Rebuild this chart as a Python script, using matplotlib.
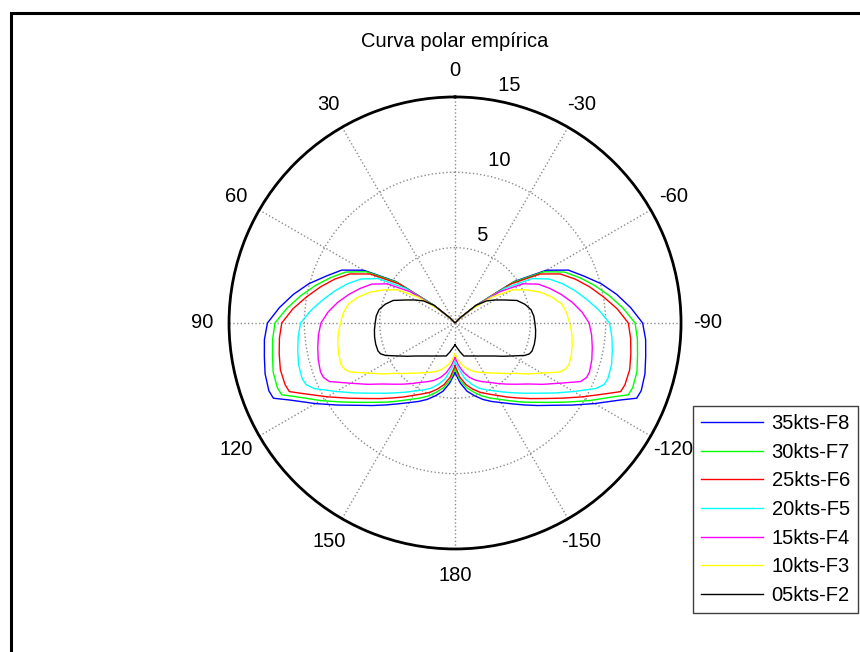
import matplotlib
matplotlib.use("Agg")
import matplotlib.pyplot as plt
from matplotlib.patches import Rectangle
import numpy as np

plt.rcParams['font.family'] = ['Liberation Sans', 'DejaVu Sans']

# wind angle (deg) and boat speed for each true wind speed, one half of the polar
angles = [0, 40, 45, 50, 55, 60, 65, 70, 75, 80, 85, 90, 95, 100, 105, 110, 112.5, 115,
          120, 125, 130, 135, 140, 145, 150, 155, 160, 165, 170, 175, 180]
v35 = [0, 0, 0.4, 1.8, 4.8, 7.0, 8.3, 9.1, 10.05, 10.9, 11.7, 12.45, 12.7, 12.85, 13.05,
       13.15, 13.05, 12.1, 10.7, 9.5, 8.5, 7.75, 7.1, 6.55, 6.1, 5.75, 5.4, 5.0, 4.6, 4.0, 3.3]
v30 = [0, 0, 0.4, 1.8, 4.7, 6.8, 8.0, 8.8, 9.6, 10.4, 11.2, 11.95, 12.15, 12.3, 12.5,
       12.55, 12.45, 11.6, 10.3, 9.15, 8.2, 7.45, 6.85, 6.3, 5.85, 5.5, 5.15, 4.75, 4.35, 3.8, 3.05]
v25 = [0, 0, 0.4, 1.7, 4.5, 6.5, 7.7, 8.5, 9.25, 10.0, 10.8, 11.5, 11.7, 11.85, 12.0,
       12.0, 11.9, 11.1, 9.8, 8.7, 7.8, 7.1, 6.5, 6.0, 5.55, 5.2, 4.9, 4.55, 4.15, 3.6, 2.85]
v20 = [0, 0, 0.4, 1.6, 4.0, 5.9, 6.9, 7.6, 8.25, 8.9, 9.6, 10.25, 10.45, 10.6, 10.75,
       10.8, 10.7, 10.3, 9.1, 8.1, 7.25, 6.6, 6.05, 5.6, 5.2, 4.9, 4.6, 4.2, 3.75, 3.1, 2.6]
v15 = [0, 0, 0.4, 1.5, 3.6, 5.2, 6.1, 6.7, 7.3, 7.9, 8.45, 8.9, 9.1, 9.25, 9.4,
       9.5, 9.45, 9.2, 8.0, 7.1, 6.3, 5.75, 5.3, 4.9, 4.55, 4.3, 4.05, 3.75, 3.35, 2.85, 2.3]
v10 = [0, 0, 0.4, 1.4, 3.0, 4.4, 5.2, 6.0, 6.65, 7.2, 7.45, 7.6, 7.78, 7.9, 8.0,
       8.05, 7.95, 7.7, 6.65, 5.9, 5.2, 4.75, 4.35, 4.05, 3.8, 3.6, 3.4, 3.15, 2.85, 2.5, 2.05]
v05 = [0, 0, 0.5, 1.84, 2.55, 3.05, 3.61, 4.37, 4.8, 5.12, 5.25, 5.3, 5.37, 5.42, 5.45,
       5.44, 5.35, 5.1, 4.38, 3.85, 3.41, 3.1, 2.86, 2.68, 2.53, 2.42, 2.33, 2.27, 1.96, 1.66, 1.46]

series = [v35, v30, v25, v20, v15, v10, v05]
labels = ['35kts-F8', '30kts-F7', '25kts-F6', '20kts-F5', '15kts-F4', '10kts-F3', '05kts-F2']
colors = ['#0000ff', '#00ff00', '#ff0000', '#00ffff', '#ff00ff', '#ffff00', '#000000']

theta_ticks = [0, 30, 60, 90, 120, 150, 180, 210, 240, 270, 300, 330]
theta_labels = ['0', '30', '60', '90', '120', '150', '180', '-150', '-120', '-90', '-60', '-30']
r_ticks = [5, 10, 15]

fig = plt.figure(figsize=(8.6, 6.52), dpi=100)
ax = fig.add_axes([0.2663, 0.158, 0.5256, 0.6933], projection='polar')
ax.set_theta_zero_location('N')
ax.set_theta_direction(1)

ang = np.array(angles, dtype=float)
full_th = np.deg2rad(np.concatenate([-ang[::-1], ang[1:]]))
lines = []
for v, lab, col in zip(series, labels, colors):
    v = np.array(v)
    full_r = np.concatenate([v[::-1], v[1:]])
    ln, = ax.plot(full_th, full_r, color=col, lw=1.0, label=lab)
    lines.append(ln)

ax.set_ylim(0, 15)
ax.set_thetagrids(theta_ticks, theta_labels, fontsize=14.5)
ax.set_rgrids([5, 10], labels=['', ''])
ax.tick_params(axis='x', pad=8.5)
ax.grid(True, linestyle=':', color='#8c8c8c', linewidth=1.0)
ax.spines['polar'].set_linewidth(2)
ax.spines['polar'].set_color('black')

# radial labels, placed like the old MATLAB polar()
for r in r_ticks:
    ax.text(np.deg2rad(-8), r + 0.25, '  ' + str(r), ha='left', va='bottom', fontsize=14.5)

fig.text(455 / 860, 1 - 47 / 652, 'Curva polar empírica', ha='center', va='baseline', fontsize=14.5)

fig.legend(lines, labels, loc='upper left', bbox_to_anchor=(693 / 860, 1 - 406 / 652),
           frameon=True, fancybox=False, edgecolor='#404040', framealpha=1, fontsize=14.5,
           handlelength=3.1, handletextpad=0.4, labelspacing=0.48, borderpad=0.4,
           borderaxespad=0)

# figure frame (right and bottom edges fall outside the picture)
fig.add_artist(Rectangle((10.5 / 860, -0.1), 1.2, 1.1 - 12.5 / 652, transform=fig.transFigure,
                         fill=False, edgecolor='black', linewidth=2.2))

fig.savefig('out.png', dpi=100)
